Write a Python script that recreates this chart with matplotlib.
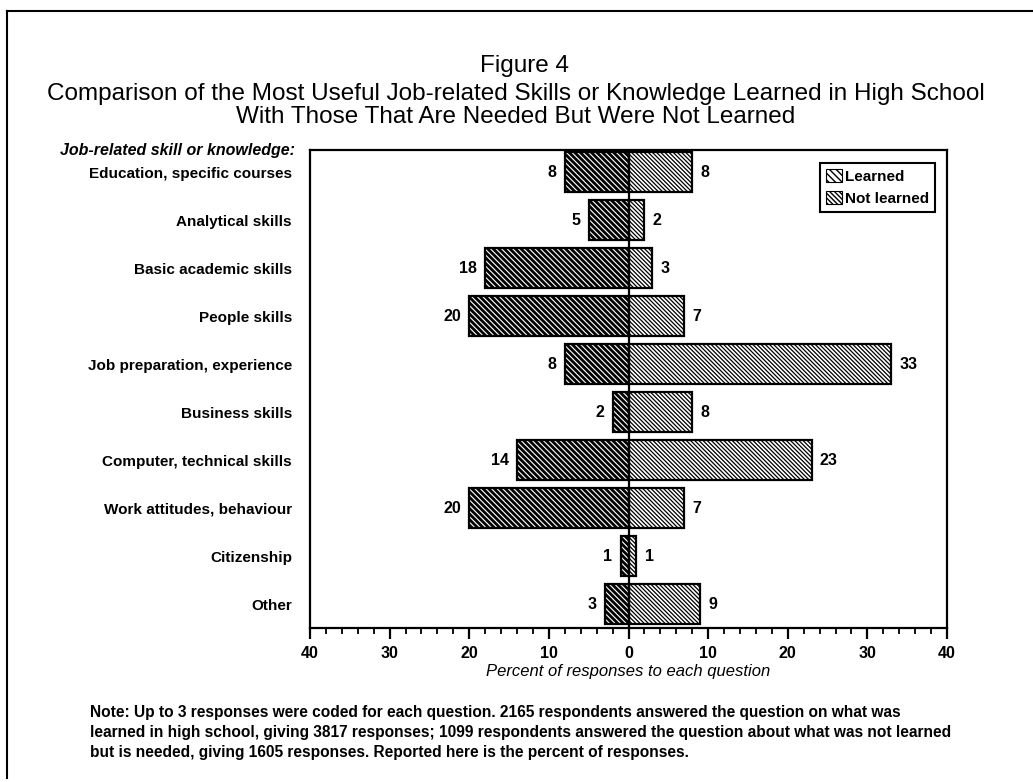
import matplotlib
matplotlib.use("Agg")
import matplotlib.pyplot as plt
from matplotlib.patches import Patch
from matplotlib.lines import Line2D
from matplotlib.ticker import MultipleLocator

categories = ["Education, specific courses", "Analytical skills", "Basic academic skills",
              "People skills", "Job preparation, experience", "Business skills",
              "Computer, technical skills", "Work attitudes, behaviour", "Citizenship", "Other"]
learned = [8, 5, 18, 20, 8, 2, 14, 20, 1, 3]
not_learned = [8, 2, 3, 7, 33, 8, 23, 7, 1, 9]
xticks = [-40, -30, -20, -10, 0, 10, 20, 30, 40]
xticklabels = ["40", "30", "20", "10", "0", "10", "20", "30", "40"]

title_lines = ["Figure 4",
               "Comparison of the Most Useful Job-related Skills or Knowledge Learned in High School",
               "With Those That Are Needed But Were Not Learned"]
note_lines = ["Note: Up to 3 responses were coded for each question. 2165 respondents answered the question on what was",
              "learned in high school, giving 3817 responses; 1099 respondents answered the question about what was not learned",
              "but is needed, giving 1605 responses. Reported here is the percent of responses."]

plt.rcParams['font.family'] = ['Liberation Sans', 'DejaVu Sans']

W, H = 1033, 782
fig = plt.figure(figsize=(W / 100, H / 100), dpi=100)

def fx(x):
    return x / W

def fy(y):
    return 1 - y / H

ax = fig.add_axes([fx(310), fy(628), fx(947) - fx(310), fy(150) - fy(628)])

ypos = list(range(len(categories)))
bh = 0.84
HATCH_L = '\\' * 6
HATCH_N = '\\' * 8
LW_L, LW_N = 2.0, 0.9

with plt.rc_context({'hatch.linewidth': LW_L}):
    b1 = ax.barh(ypos, [-v for v in learned], height=bh, color='white',
                 edgecolor='black', linewidth=1.6, hatch=HATCH_L, label='Learned')
with plt.rc_context({'hatch.linewidth': LW_N}):
    b2 = ax.barh(ypos, not_learned, height=bh, color='white',
                 edgecolor='black', linewidth=1.6, hatch=HATCH_N, label='Not learned')
for p in b1:
    if hasattr(p, 'set_hatch_linewidth'):
        p.set_hatch_linewidth(LW_L)
for p in b2:
    if hasattr(p, 'set_hatch_linewidth'):
        p.set_hatch_linewidth(LW_N)

ax.axvline(0, color='black', linewidth=1.6)

for y, v in zip(ypos, learned):
    ax.annotate(str(v), (-v, y), xytext=(-6, 0), textcoords='offset points',
                ha='right', va='center', fontsize=11.5, fontweight='bold')
for y, v in zip(ypos, not_learned):
    ax.annotate(str(v), (v, y), xytext=(6, 0), textcoords='offset points',
                ha='left', va='center', fontsize=11.5, fontweight='bold')

ax.set_xlim(-40, 40)
ax.set_ylim(9.5, -0.46)
ax.set_xticks(xticks)
ax.set_xticklabels(xticklabels, fontsize=11.5, fontweight='bold')
ax.xaxis.set_minor_locator(MultipleLocator(2))
ax.tick_params(axis='x', which='major', direction='out', length=8, width=1.6, pad=5)
ax.tick_params(axis='x', which='minor', direction='out', length=4, width=1.3)
ax.set_yticks(ypos)
ax.set_yticklabels(categories, fontsize=11, fontweight='bold')
ax.tick_params(axis='y', which='major', length=0, pad=13)
for s in ax.spines.values():
    s.set_linewidth(1.6)

ax.set_xlabel("Percent of responses to each question", fontsize=12, fontstyle='italic',
              labelpad=2)

with plt.rc_context({'hatch.linewidth': 1.0}):
    h1 = Patch(facecolor='white', edgecolor='black', hatch='\\' * 5, linewidth=0.8, label='Learned')
    h2 = Patch(facecolor='white', edgecolor='black', hatch='\\' * 7, linewidth=0.8, label='Not learned')
leg = ax.legend(handles=[h1, h2],
                loc='upper right', bbox_to_anchor=(fx(935), fy(163)), bbox_transform=fig.transFigure,
                fancybox=False, edgecolor='black', framealpha=1, fontsize=11,
                handlelength=1.0, handleheight=0.9, handletextpad=0.2,
                borderpad=0.4, labelspacing=0.5, borderaxespad=0)
leg.get_frame().set_linewidth(1.5)
for t in leg.get_texts():
    t.set_fontweight('bold')

fig.text(fx(295), fy(150), "Job-related skill or knowledge:", ha='right', va='center',
         fontsize=11.5, fontweight='bold', fontstyle='italic')

fig.text(fx(525), fy(66), title_lines[0], ha='center', va='center', fontsize=17.5)
fig.text(fx(516), fy(94), title_lines[1], ha='center', va='center', fontsize=17.5)
fig.text(fx(516), fy(117), title_lines[2], ha='center', va='center', fontsize=17.5)

for i, line in enumerate(note_lines):
    fig.text(fx(90), fy(713 + 19.5 * i), line, ha='left', va='center',
             fontsize=11.2, fontweight='bold')

fig.add_artist(Line2D([fx(7), fx(1033)], [fy(11), fy(11)], color='black', linewidth=1.5))
fig.add_artist(Line2D([fx(7), fx(7)], [fy(11), fy(778)], color='black', linewidth=1.5))

fig.savefig("out.png", dpi=100)
